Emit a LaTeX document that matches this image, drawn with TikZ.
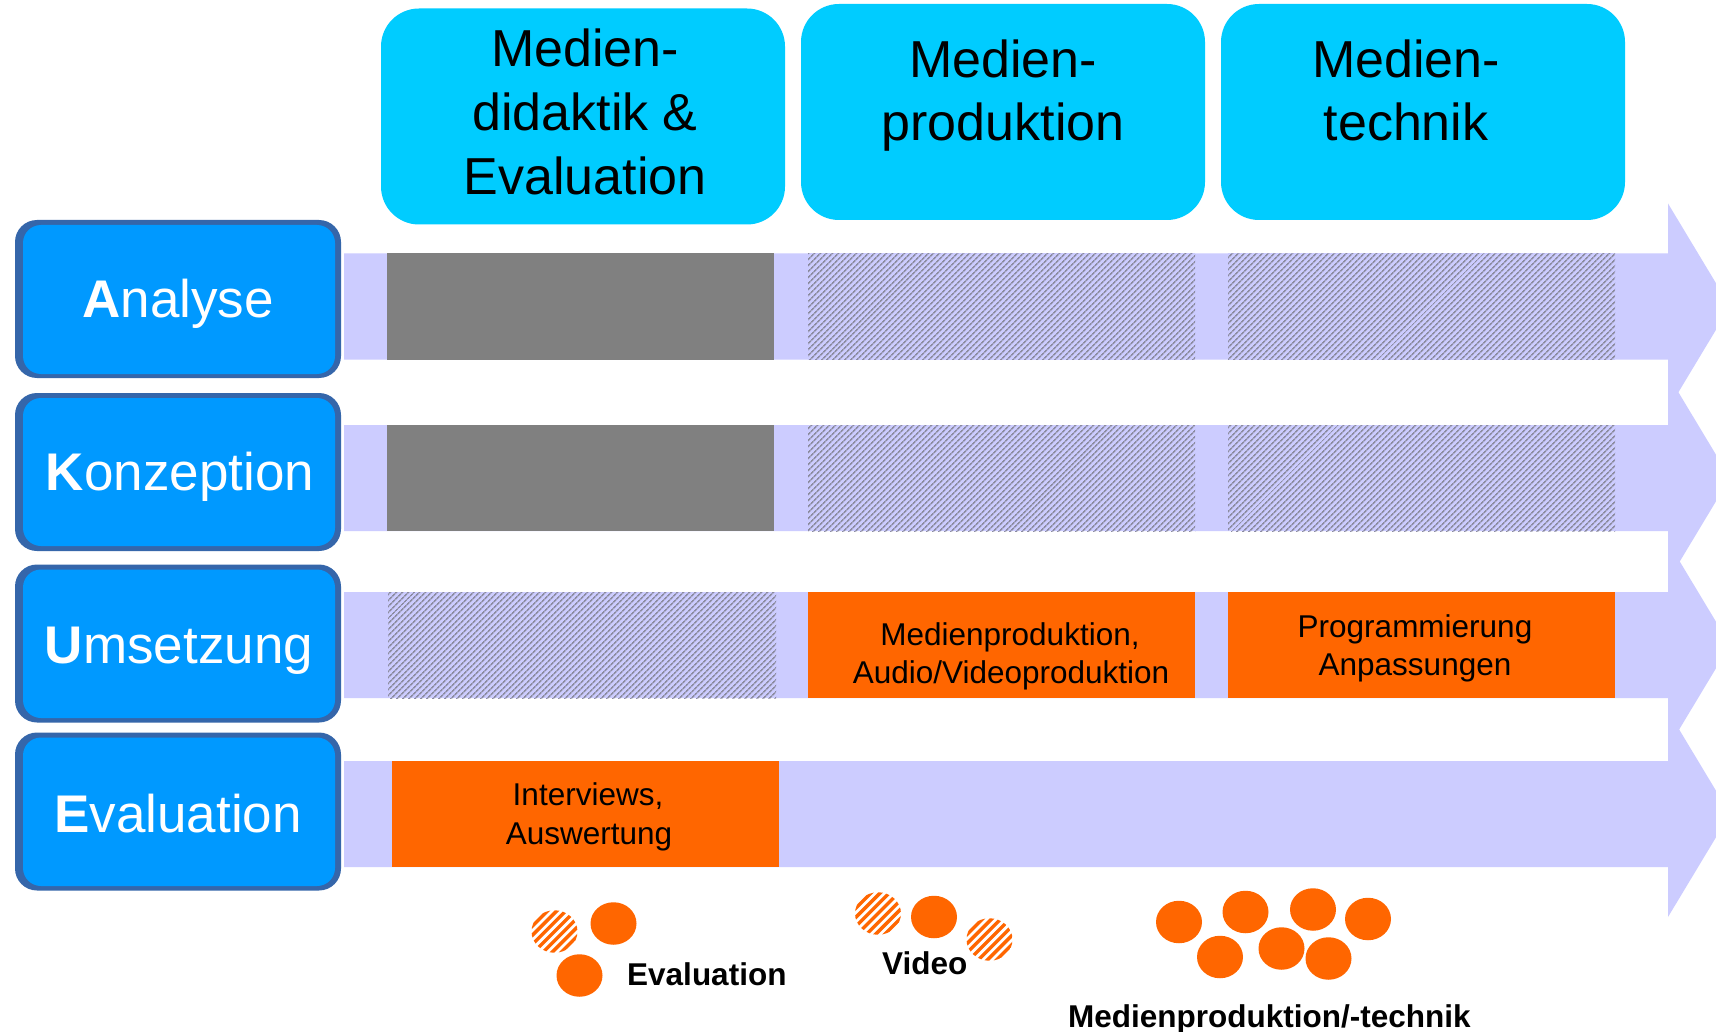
\documentclass[tikz,border=0pt]{standalone}
\usepackage{fontspec}
\setmainfont{Liberation Sans}
\usetikzlibrary{patterns.meta,shapes.geometric}
\definecolor{hdrcyan}{HTML}{00CCFF}
\definecolor{lav}{HTML}{CCCCFF}
\definecolor{orng}{HTML}{FF6600}
\definecolor{blkgray}{HTML}{808080}
\definecolor{lblue}{HTML}{0099FF}
\definecolor{lborder}{HTML}{3566AA}
\definecolor{hatchgray}{HTML}{8C8CA0}
\begin{document}
\begin{tikzpicture}[x=1pt,y=-1pt,
  hdrbox/.style={fill=hdrcyan, rounded corners=38pt, minimum width=404pt, minimum height=216pt, inner sep=0pt},
  hdrtext/.style={anchor=base, inner sep=0pt, font=\fontsize{52}{63}\selectfont},
  lblouter/.style={fill=lborder, rounded corners=22pt, minimum width=326pt, minimum height=158pt, inner sep=0pt},
  lblinner/.style={fill=lblue, rounded corners=18pt},
  lbltext/.style={anchor=base, inner sep=0pt, text=white, font=\fontsize{53}{60}\selectfont},
  band/.style={fill=lav},
  greyblk/.style={fill=blkgray},
  hatchblk/.style={fill=lav, postaction={pattern={Lines[angle=45,distance=4pt,line width=1.7pt]}, pattern color=hatchgray}},
  orblk/.style={fill=orng},
  ortext/.style={anchor=base, inner sep=0pt, font=\fontsize{31.5}{38}\selectfont},
  dot/.style={fill=orng, draw=none, ellipse, minimum width=46pt, minimum height=42.5pt, inner sep=0pt},
  hdot/.style={draw=none, ellipse, minimum width=46pt, minimum height=42.5pt, inner sep=0pt,
    path picture={\foreach \k in {-5,...,5}{\draw[orng, line width=3.4pt] ([xshift=\k*9.19pt-40pt, yshift=-40pt]path picture bounding box.center) -- ++(80,-80);}}},
  legtext/.style={anchor=base west, inner sep=0pt, font=\fontsize{31.5}{38}\selectfont\bfseries}
]
\clip (0,0) rectangle (1716,1032);
\fill[white] (0,0) rectangle (1716,1032);

% header boxes
\node[hdrbox] (h1) at (583,116.5) {};
\node[hdrbox] (h2) at (1003,112) {};
\node[hdrbox] (h3) at (1423,112) {};
\node[hdrtext] (h1a) at (585,67) {Medien-};
\node[hdrtext] (h1b) at (585,131) {didaktik \&};
\node[hdrtext] (h1c) at (585,195) {Evaluation};
\node[hdrtext] (h2a) at (1003,78) {Medien-};
\node[hdrtext] (h2b) at (1003,141) {produktion};
\node[hdrtext] (h3a) at (1406,78) {Medien-};
\node[hdrtext] (h3b) at (1406,141) {technik};

% arrow bands
\foreach \t/\b in {253.5/359.5, 425/531, 592/698, 761/867}{
  \pgfmathsetmacro{\c}{(\t+\b)/2}
  \fill[band] (344,\t) -- (1668,\t) -- (1668,\c-103) -- (1730,\c) -- (1668,\c+103) -- (1668,\b) -- (344,\b) -- cycle;
}

% row 1
\fill[greyblk] (387,253.5) rectangle (774,359.5);
\fill[hatchblk] (808,253.5) rectangle (1195,359.5);
\fill[hatchblk] (1228,253.5) rectangle (1615,359.5);
% row 2
\fill[greyblk] (387,425) rectangle (774,531);
\fill[hatchblk] (808,425) rectangle (1195,531);
\fill[hatchblk] (1228,425) rectangle (1615,531);
% row 3
\fill[hatchblk] (388,592) rectangle (776,698);
\fill[orblk] (808,592) rectangle (1195,698);
\fill[orblk] (1228,592) rectangle (1615,698);
\node[ortext] (t3a) at (1010,645) {Medienproduktion,};
\node[ortext] (t3b) at (1011,683) {Audio/Videoproduktion};
\node[ortext] (t3c) at (1415,637) {Programmierung};
\node[ortext] (t3d) at (1415,675) {Anpassungen};
% row 4
\fill[orblk] (392,761) rectangle (779,867);
\node[ortext] (t4a) at (588,805) {Interviews,};
\node[ortext] (t4b) at (589,844) {Auswertung};

% left label boxes
\node[lblouter] (l1) at (178,299) {};
\fill[lblinner] (23,225) rectangle (335,374);
\node[lbltext] (l1t) at (178,317) {{\bfseries A}nalyse};
\node[lblouter] (l2) at (178,472) {};
\fill[lblinner] (23,398) rectangle (335,546);
\node[lbltext] (l2t) at (180,490) {{\bfseries K}onzeption};
\node[lblouter] (l3) at (178,643.5) {};
\fill[lblinner] (23,569.5) rectangle (335,718);
\node[lbltext] (l3t) at (179,663) {{\bfseries U}msetzung};
\node[lblouter] (l4) at (178,811.5) {};
\fill[lblinner] (23,737.5) rectangle (335,886);
\node[lbltext] (l4t) at (178,832) {{\bfseries E}valuation};

% legend
\node[hdot] (e1) at (554.5,931.5) {};
\node[dot] (e2) at (613.5,923.5) {};
\node[dot] (e3) at (579.5,975.5) {};
\node[legtext] (le) at (627,985) {Evaluation};

\node[hdot] (v1) at (878,913.5) {};
\node[dot] (v2) at (934,917) {};
\node[hdot] (v3) at (989.5,939.5) {};
\node[legtext] (lv) at (882,974) {Video};

\node[dot] (m1) at (1179,922) {};
\node[dot] (m2) at (1245.5,912) {};
\node[dot] (m3) at (1313,909.5) {};
\node[dot] (m4) at (1368,919) {};
\node[dot] (m5) at (1220,957) {};
\node[dot] (m6) at (1281.5,948.5) {};
\node[dot] (m7) at (1328.5,958.5) {};
\node[legtext] (lm) at (1068,1027) {Medienproduktion/-technik};
\end{tikzpicture}
\end{document}
